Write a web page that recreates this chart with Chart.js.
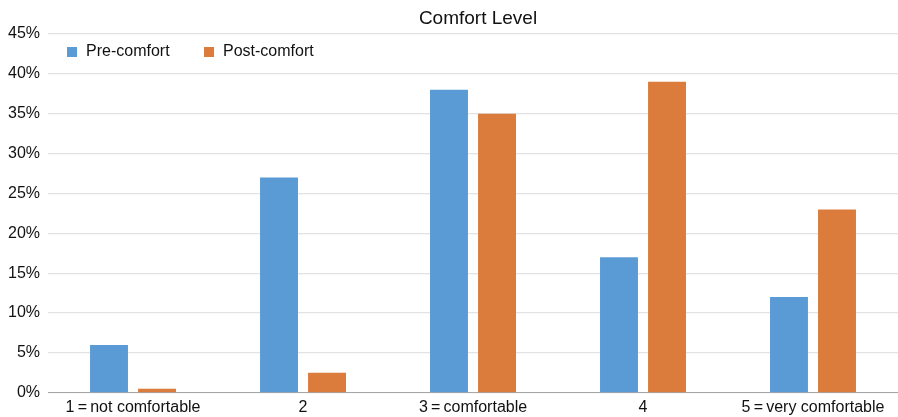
<!DOCTYPE html>
<html>
<head>
<meta charset="utf-8">
<script src="https://cdn.jsdelivr.net/npm/chart.js@4"></script>
<style>
html,body{margin:0;padding:0;background:#fff;}
#wrap{width:898px;height:417px;}
</style>
</head>
<body>
<div id="wrap"><canvas id="c"></canvas></div>
<script>
const categories = ["1\u2009=\u2009not comfortable", "2", "3\u2009=\u2009comfortable", "4", "5\u2009=\u2009very comfortable"];
const preComfort = [6, 27, 38, 17, 12];
const postComfort = [0.5, 2.5, 35, 39, 23];
const yTicks = [0, 5, 10, 15, 20, 25, 30, 35, 40, 45];
const chartTitle = 'Comfort Level';

const FONT = "'Liberation Sans', Arial, Helvetica, sans-serif";
Chart.defaults.font.family = FONT;
Chart.defaults.color = '#222';

const decorations = {
  id: 'decorations',
  afterDraw(chart) {
    const ctx = chart.ctx;
    const a = chart.chartArea;
    ctx.save();
    // title, centred over the plot area
    ctx.font = '19px ' + FONT;
    ctx.fillStyle = '#111';
    ctx.textAlign = 'center';
    ctx.textBaseline = 'middle';
    ctx.fillText(chartTitle, (a.left + a.right) / 2 + 5, a.top - 15);
    // legend inside the plot area
    const y = a.top + 18;
    let x = a.left + 19;
    ctx.font = '16px ' + FONT;
    ctx.textAlign = 'left';
    chart.data.datasets.forEach(ds => {
      ctx.fillStyle = ds.backgroundColor;
      ctx.fillRect(x, y - 5, 10, 10);
      ctx.fillStyle = '#111';
      ctx.fillText(ds.label, x + 19, y);
      x += 137;
    });
    ctx.restore();
  }
};

new Chart(document.getElementById('c'), {
  type: 'bar',
  data: {
    labels: categories,
    datasets: [
      { label: 'Pre-comfort', data: preComfort, backgroundColor: '#5b9bd5', borderWidth: 0 },
      { label: 'Post-comfort', data: postComfort, backgroundColor: '#db7c3c', borderWidth: 0 }
    ]
  },
  plugins: [decorations],
  options: {
    responsive: true,
    maintainAspectRatio: false,
    animation: false,
    datasets: { bar: { categoryPercentage: 0.565, barPercentage: 0.79 } },
    layout: { padding: { left: 0, right: 0, top: 34, bottom: -5 } },
    plugins: {
      title: { display: false },
      legend: { display: false },
      tooltip: { enabled: false }
    },
    scales: {
      x: {
        grid: { display: false, drawTicks: false },
        border: { display: true, color: '#a6a6a6', width: 1 },
        ticks: { font: { size: 16 }, color: '#111', padding: 5, maxRotation: 0, autoSkip: false }
      },
      y: {
        min: 0, max: 45,
        afterBuildTicks: (s) => { s.ticks = yTicks.map(v => ({ value: v })); },
        grid: { color: '#e2e2e2', lineWidth: 1.2, drawTicks: false },
        border: { display: false },
        ticks: { font: { size: 16 }, color: '#111', padding: 8, callback: v => v + '%' }
      }
    }
  }
});
</script>
</body>
</html>
